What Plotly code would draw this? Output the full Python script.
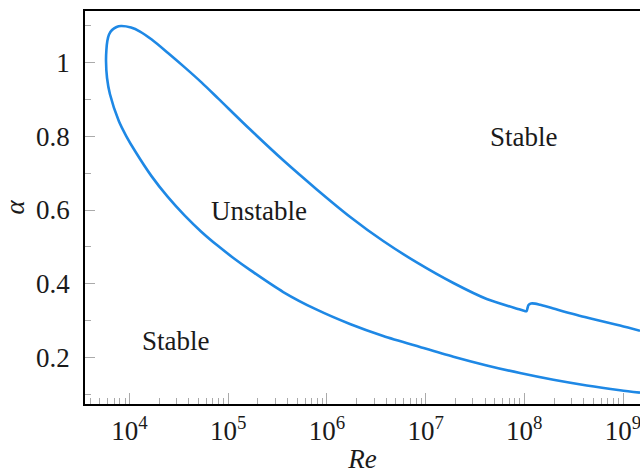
import numpy as np
import plotly.graph_objects as go

# Neutral curve, traced from the lower branch (right -> left), around the nose,
# then along the upper branch (left -> right), including the small kink near Re ~ 1e8
re_curve = [1.486e9, 9.33e8, 4.29e8, 1.97e8, 9.04e7, 4.16e7, 1.91e7, 8.77e6, 3.72e6, 1.71e6,
            7.89e5, 3.61e5, 1.66e5, 1.146e5, 7.80e4, 5.30e4, 3.61e4, 2.455e4, 1.67e4, 1.137e4,
            9.26e3, 7.79e3, 6.33e3, 5.92e3, 5.78e3,
            5.83e3, 5.96e3, 6.20e3, 6.65e3, 7.385e3, 8.20e3, 1.036e4, 1.278e4, 1.679e4,
            2.455e4, 3.65e4, 5.39e4, 7.94e4, 1.66e5, 3.61e5, 7.89e5, 1.71e6, 3.72e6, 8.13e6,
            1.91e7, 4.16e7,
            9.04e7, 9.93e7, 1.053e8, 1.078e8, 1.103e8, 1.169e8, 1.284e8, 1.443e8,
            1.97e8, 4.29e8, 9.33e8, 1.486e9]
alpha_curve = [0.1055, 0.112, 0.1247, 0.1401, 0.1583, 0.1791, 0.2027, 0.229, 0.2588, 0.2913,
               0.330, 0.3779, 0.4378, 0.4687, 0.5036, 0.542, 0.5854, 0.6347, 0.6918, 0.7598,
               0.8004, 0.841, 0.9142, 0.9575, 1.0035,
               1.0333, 1.0577, 1.0753, 1.0875, 1.0956, 1.0983, 1.0942, 1.0834, 1.0617,
               1.0252, 0.9856, 0.945, 0.9017, 0.8186, 0.7346, 0.6558, 0.5819, 0.516, 0.4581,
               0.4023, 0.359,
               0.3305, 0.327, 0.326, 0.3346, 0.3427, 0.3468, 0.3465, 0.3433,
               0.3333, 0.3089, 0.2872, 0.273]

x_tick_vals = [1e4, 1e5, 1e6, 1e7, 1e8, 1e9]
x_tick_text = ["10<sup>4</sup>", "10<sup>5</sup>", "10<sup>6</sup>", "10<sup>7</sup>",
               "10<sup>8</sup>", "10<sup>9</sup>"]
y_tick_vals = [0.2, 0.4, 0.6, 0.8, 1.0]
y_tick_text = ["0.2", "0.4", "0.6", "0.8", "1"]
y_minor_vals = [0.1, 0.3, 0.5, 0.7, 0.9, 1.1]

region_labels = ["Stable", "Unstable", "Stable"]
region_re = [2.96e4, 2.05e5, 9.93e7]
region_alpha = [0.245, 0.597, 0.798]

x_minor_vals = [k * 10.0 ** n for n in range(3, 10) for k in range(2, 10)]

FONT = "Liberation Serif"
FS = 27
TXT = "#1a1a1a"

fig = go.Figure()
fig.add_trace(go.Scatter(
    x=re_curve, y=alpha_curve, mode="lines",
    line=dict(color="#1E88E5", width=2.6, shape="spline", smoothing=0.8),
    hoverinfo="skip", showlegend=False))

for t, rx, ay in zip(region_labels, region_re, region_alpha):
    fig.add_annotation(x=np.log10(rx), y=ay, text=t, showarrow=False,
                       font=dict(family=FONT, size=FS, color=TXT),
                       xanchor="center", yanchor="middle")

fig.update_layout(
    width=640, height=474,
    margin=dict(l=85, r=0, t=11, b=70),
    paper_bgcolor="white", plot_bgcolor="white",
    font=dict(family=FONT, size=FS, color=TXT),
    showlegend=False,
)
fig.update_xaxes(
    type="log", range=[3.549, 9.172],
    tickmode="array", tickvals=x_tick_vals, ticktext=x_tick_text,
    ticks="inside", ticklen=11, tickwidth=1, tickcolor="#aaaaaa",
    minor=dict(tickmode="array", tickvals=x_minor_vals, ticks="inside",
               ticklen=6, tickwidth=1, tickcolor="#aaaaaa", showgrid=False),
    showline=True, linecolor="black", linewidth=1.6, mirror=True,
    showgrid=False, zeroline=False, ticklabeloverflow="allow",
    tickfont=dict(family=FONT, size=FS, color=TXT), ticklabelstandoff=2,
    title=dict(text="<i>Re</i>", font=dict(family=FONT, size=FS, color=TXT), standoff=4),
)
fig.update_yaxes(
    range=[0.0746, 1.139],
    tickmode="array", tickvals=y_tick_vals, ticktext=y_tick_text,
    ticks="inside", ticklen=10, tickwidth=1, tickcolor="#aaaaaa",
    minor=dict(tickmode="array", tickvals=y_minor_vals, ticks="inside",
               ticklen=6, tickwidth=1, tickcolor="#aaaaaa", showgrid=False),
    showline=True, linecolor="black", linewidth=1.6, mirror=False,
    showgrid=False, zeroline=False,
    tickfont=dict(family=FONT, size=FS, color=TXT), ticklabelstandoff=8,
    title=dict(text="<i>α</i>", font=dict(family=FONT, size=FS, color=TXT), standoff=10),
)

fig.write_html("out.html")
